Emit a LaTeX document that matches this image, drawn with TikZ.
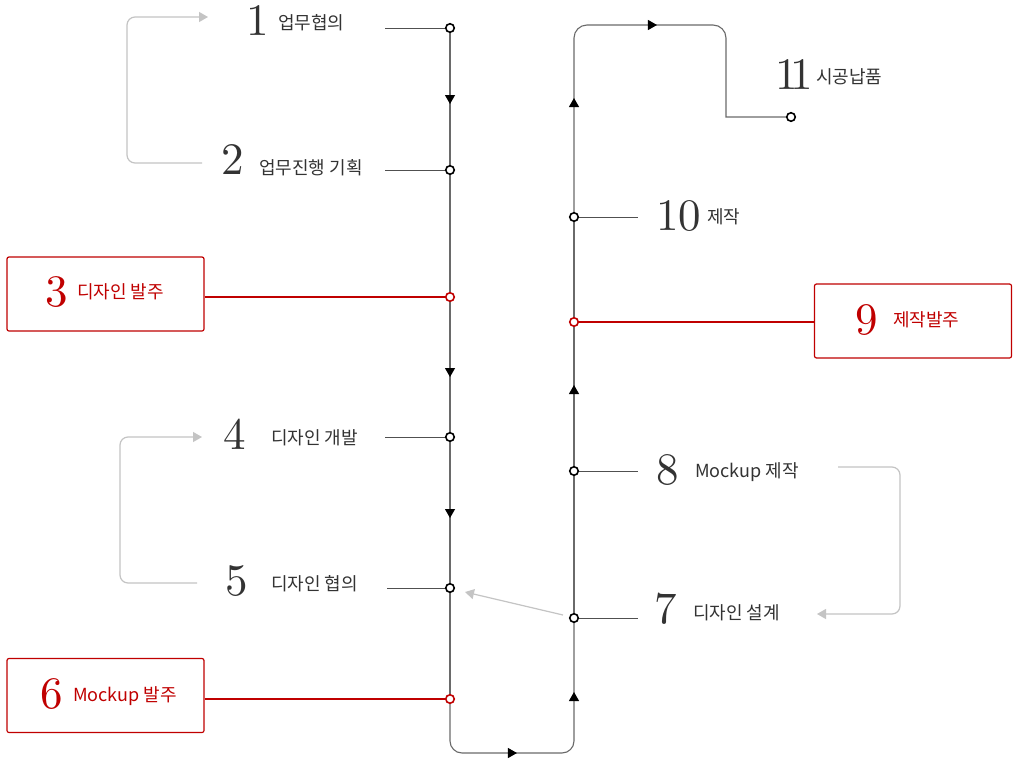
\documentclass[tikz,border=0pt]{standalone}
\usepackage{fontspec}
\newfontfamily\kr{Noto Sans CJK KR}
\newfontfamily\numf{lmroman10-regular.otf}
\usetikzlibrary{arrows.meta,decorations.markings}
\definecolor{ink}{HTML}{333333}
\definecolor{redc}{HTML}{C00000}
\definecolor{linec}{HTML}{6A6A6A}
\definecolor{stubc}{HTML}{505050}
\definecolor{fbc}{HTML}{C4C4C4}
\tikzset{
  mtri/.tip={Triangle[width=10pt,length=9pt]},
  gtri/.tip={Triangle[width=10pt,length=9pt]},
  flow/.style={draw=linec, line width=1.1pt},
  stub/.style={draw=stubc, line width=1pt},
  rline/.style={draw=redc, line width=1.1pt},
  fb/.style={draw=fbc, line width=1.2pt, rounded corners=8pt, -{gtri[fill=fbc]}},
  triat/.style={postaction={decorate,decoration={markings,mark=at position #1 with {\arrow[black]{mtri}}}}},
  dot/.style={circle, draw=black, fill=white, line width=1.6pt, minimum size=8.5pt, inner sep=0pt},
  rdot/.style={dot, draw=redc},
  rbox/.style={draw=redc, line width=1.2pt, rounded corners=2pt, minimum width=197pt, minimum height=74pt, inner sep=0pt},
  numl/.style={anchor=west, inner sep=0pt, font=\numf\fontsize{45}{45}\selectfont, text=ink},
  txt/.style={anchor=west, inner sep=0pt, font=\kr\fontsize{18}{18}\selectfont, text=ink},
}
\begin{document}
\begin{tikzpicture}[x=1pt,y=-1pt]
\useasboundingbox[fill=white] (0,0) rectangle (1028,758);
% main points
\coordinate (p1) at (450,28);
\coordinate (p2) at (450,170);
\coordinate (p3) at (450,297);
\coordinate (p4) at (450,437);
\coordinate (p5) at (450,588);
\coordinate (p6) at (450,699);
\coordinate (bl) at (450,753);
\coordinate (br) at (574,753);
\coordinate (p7) at (574,618);
\coordinate (p8) at (574,471);
\coordinate (p9) at (574,322);
\coordinate (p10) at (574,217);
\coordinate (tl) at (574,25);
\coordinate (tr) at (726,25);
\coordinate (trb) at (726,117);
\coordinate (p11) at (791,117);
% main flow
\draw[flow, triat=76pt] (p1) -- (p2);
\draw[flow] (p2) -- (p3);
\draw[flow, triat=80pt] (p3) -- (p4);
\draw[flow, triat=81pt] (p4) -- (p5);
\draw[flow] (p5) -- (p6);
\draw[flow, rounded corners=12pt, triat=115.8pt, triat=228.7pt] (p6) -- (bl) -- (br) -- (p7);
\draw[flow] (p7) -- (p8);
\draw[flow, triat=86pt] (p8) -- (p9);
\draw[flow] (p9) -- (p10);
\draw[flow, triat=119pt, triat=269.4pt] (p10) [rounded corners=13pt] -- (tl) -- (tr) [sharp corners] -- (trb) -- (p11);
% labels
\node[numl] (n1) at (246,21) {1};
\node[txt] (t1) at (278,23) {업무협의};
\node[numl] (n2) at (221,160) {2};
\node[txt] (t2) at (259,168) {업무진행 기획};
\node[numl] (n4) at (223,434) {4};
\node[txt] (t4) at (271,438) {디자인 개발};
\node[numl] (n5) at (225,581) {5};
\node[txt] (t5) at (271,584) {디자인 협의};
\node[numl] (n7) at (654,609) {7};
\node[txt] (t7) at (693,613) {디자인 설계};
\node[numl] (n8) at (656,470) {8};
\node[txt] (t8) at (695,472.5) {Mockup 제작};
\node[numl] (n10) at (656,216) {10};
\node[txt] (t10) at (707,217) {제작};
\node[numl] (n11) at (775,74.5) {1\kern-7pt1};
\node[txt] (t11) at (816,77) {시공납품};
% stubs
\coordinate (s1) at (385,28);
\coordinate (s2) at (385,170);
\coordinate (s4) at (385,437);
\coordinate (s5) at (387,588);
\coordinate (s7) at (638,618);
\coordinate (s8) at (638,471);
\coordinate (s10) at (638,217);
\draw[stub] (s1) -- (p1);
\draw[stub] (s2) -- (p2);
\draw[stub] (s4) -- (p4);
\draw[stub] (s5) -- (p5);
\draw[stub] (p7) -- (s7);
\draw[stub] (p8) -- (s8);
\draw[stub] (p10) -- (s10);
% red boxes
\node[rbox] (b3) at (105.5,294) {};
\node[numl, text=redc] (n3) at (45,292.5) {3};
\node[txt, text=redc] (t3) at (77,292) {디자인 발주};
\node[rbox] (b6) at (105.5,695.5) {};
\node[numl, text=redc] (n6) at (40,694) {6};
\node[txt, text=redc] (t6) at (73,696.5) {Mockup 발주};
\node[rbox] (b9) at (913,321) {};
\node[numl, text=redc] (n9) at (855,320) {9};
\node[txt, text=redc] (t9) at (893,320) {제작발주};
\draw[rline] (b3.east |- p3) -- (p3);
\draw[rline] (b6.east |- p6) -- (p6);
\draw[rline] (p9) -- (b9.west |- p9);
% feedback arrows
\coordinate (fa1) at (202,163);
\coordinate (fa2) at (208,17);
\draw[fb] (fa1) -- (127,163) -- (127,17) -- (fa2);
\coordinate (fb1) at (197,583);
\coordinate (fb2) at (202,437);
\draw[fb] (fb1) -- (120,583) -- (120,437) -- (fb2);
\coordinate (fc1) at (838,467);
\coordinate (fc2) at (817,614);
\draw[fb] (fc1) -- (900,467) -- (900,614) -- (fc2);
\coordinate (fd1) at (563,615);
\coordinate (fd2) at (465,592);
\draw[fb] (fd1) -- (fd2);
% dots
\node[dot] (d1) at (p1) {};
\node[dot] (d2) at (p2) {};
\node[rdot] (d3) at (p3) {};
\node[dot] (d4) at (p4) {};
\node[dot] (d5) at (p5) {};
\node[rdot] (d6) at (p6) {};
\node[dot] (d7) at (p7) {};
\node[dot] (d8) at (p8) {};
\node[rdot] (d9) at (p9) {};
\node[dot] (d10) at (p10) {};
\node[dot] (d11) at (p11) {};
\end{tikzpicture}
\end{document}
